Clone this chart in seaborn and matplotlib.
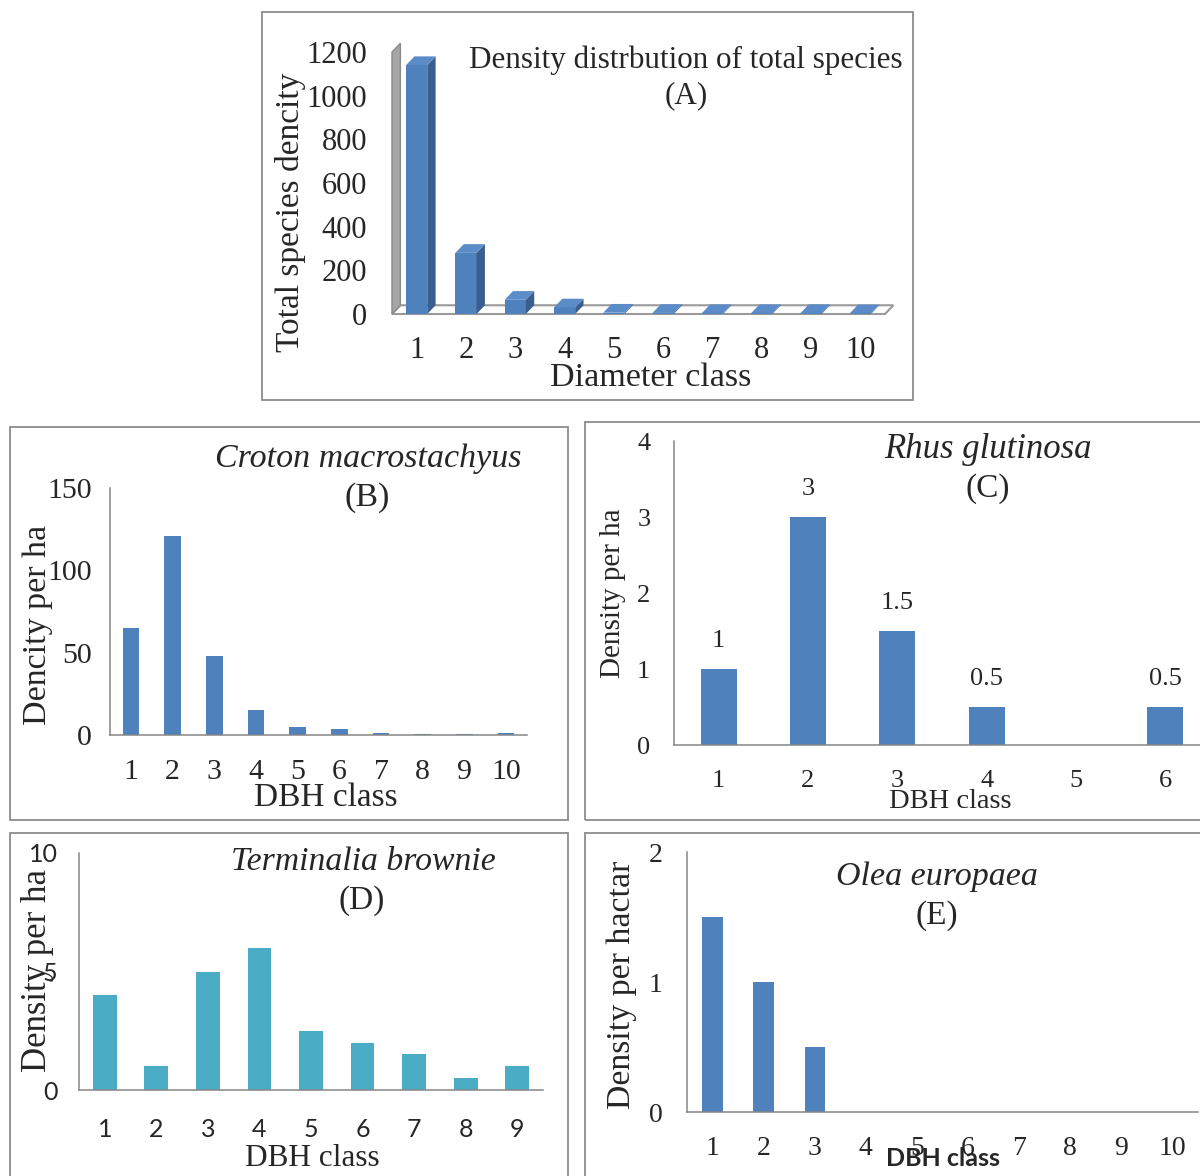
import matplotlib
matplotlib.use("Agg")
import matplotlib.pyplot as plt
from matplotlib.patches import Polygon, Rectangle
import pandas as pd
import seaborn as sns

# values
classes_a = [str(i) for i in range(1, 11)]
total_density = [1140, 280, 65, 30, 6, 5, 4, 4, 4, 3]

classes_b = [str(i) for i in range(1, 11)]
croton = [65, 121, 48, 15, 5, 3.5, 1, 0.5, 0.5, 1]

classes_c = [str(i) for i in range(1, 7)]
rhus = [1, 3, 1.5, 0.5, 0, 0.5]

classes_d = [str(i) for i in range(1, 10)]
terminalia = [4, 1, 5, 6, 2.5, 2, 1.5, 0.5, 1]

classes_e = [str(i) for i in range(1, 11)]
olea = [1.5, 1, 0.5, 0, 0, 0, 0, 0, 0, 0]

BLUE = '#4F81BD'
TEAL = '#4BACC6'
GREY = '#868686'

sns.set_style('white')
plt.rcParams['font.family'] = ['Liberation Serif', 'DejaVu Serif']

W, H = 1200, 1176
fig = plt.figure(figsize=(12, 11.76), dpi=100)


def rect(l, t, r, b):
    return [l / W, 1 - b / H, (r - l) / W, (b - t) / H]


def px(x, y):
    return x / W, 1 - y / H


def frame(l, t, r, b):
    fig.add_artist(Rectangle((l / W, 1 - b / H), (r - l) / W, (b - t) / H,
                             transform=fig.transFigure, fill=False,
                             edgecolor='#8c8c8c', lw=1.3))


def bars(ax, cats, vals, color, width):
    df = pd.DataFrame({'cls': cats, 'val': vals})
    sns.barplot(data=df, x='cls', y='val', color=color, width=width,
                saturation=1, ax=ax, edgecolor='none')
    ax.set_xlabel('')
    ax.set_ylabel('')


def style2d(ax, xpad, ylen, ypad, fs=20, yfs=None):
    sns.despine(ax=ax)
    for s in ('left', 'bottom'):
        ax.spines[s].set_color(GREY)
        ax.spines[s].set_linewidth(1.1)
    ax.tick_params(axis='y', length=ylen, color=GREY, width=1.1,
                   labelsize=yfs or fs, pad=ypad)
    ax.tick_params(axis='x', length=0, labelsize=fs, pad=xpad)


# ---------- panel A (pseudo 3D) ----------
frame(262, 12, 913, 400)
axA = fig.add_axes(rect(392, 52, 885, 314))
bars(axA, classes_a, total_density, BLUE, 0.43)
axA.set_ylim(0, 1200)
axA.set_yticks(range(0, 1201, 200))
for s in axA.spines.values():
    s.set_visible(False)
axA.tick_params(axis='y', length=7, color=GREY, width=1.1, labelsize=22, pad=11)
axA.tick_params(axis='x', length=0, labelsize=22, pad=16)
dx, dy = 0.17, 40
n = len(classes_a)
axA.add_patch(Polygon([(-0.5, 0), (n - 0.5, 0), (n - 0.5 + dx, dy), (-0.5 + dx, dy)],
                      closed=True, facecolor='white', edgecolor='#9a9a9a',
                      lw=1.5, zorder=0.5, clip_on=False))
axA.add_patch(Polygon([(-0.5, 0), (-0.5 + dx, dy), (-0.5 + dx, 1200 + dy), (-0.5, 1200)],
                      closed=True, facecolor='#a6a6a6', edgecolor='#8a8a8a',
                      lw=1, zorder=0.5, clip_on=False))
for p in list(axA.patches)[:n]:
    x0, w, h = p.get_x(), p.get_width(), p.get_height()
    if w == 0:
        continue
    axA.add_patch(Polygon([(x0 + w, 0), (x0 + w + dx, dy), (x0 + w + dx, h + dy), (x0 + w, h)],
                          closed=True, facecolor='#3A5F8E', edgecolor='none',
                          zorder=3, clip_on=False))
    axA.add_patch(Polygon([(x0, h), (x0 + w, h), (x0 + w + dx, h + dy), (x0 + dx, h + dy)],
                          closed=True, facecolor='#5B8CC8', edgecolor='none',
                          zorder=3, clip_on=False))
fig.text(*px(686, 60), 'Density distrbution of total species', ha='center', va='center', fontsize=22.4)
fig.text(*px(686, 96), '(A)', ha='center', va='center', fontsize=22.4)
fig.text(*px(290, 212), 'Total species dencity', ha='center', va='center', rotation=90, fontsize=24)
fig.text(*px(651, 378), 'Diameter class', ha='center', va='center', fontsize=24.5)

# ---------- panel B ----------
frame(10, 427, 568, 820)
axB = fig.add_axes(rect(110, 488, 527, 735))
bars(axB, classes_b, croton, BLUE, 0.4)
axB.set_ylim(0, 150)
axB.set_yticks([0, 50, 100, 150])
style2d(axB, 17, 4.5, 8.5, fs=21.5)
fig.text(*px(368, 459), 'Croton macrostachyus', ha='center', va='center', fontsize=24.5, style='italic')
fig.text(*px(367, 498), '(B)', ha='center', va='center', fontsize=24.5)
fig.text(*px(38, 625), 'Dencity per ha', ha='center', va='center', rotation=90, fontsize=24.5)
fig.text(*px(326, 798), 'DBH class', ha='center', va='center', fontsize=24)

# ---------- panel C ----------
frame(585, 422, 1210, 820)
axC = fig.add_axes(rect(674, 441, 1210, 745))
bars(axC, classes_c, rhus, BLUE, 0.4)
axC.set_ylim(0, 4)
axC.set_yticks([0, 1, 2, 3, 4])
style2d(axC, 18, 5, 12, fs=19)
axC.bar_label(axC.containers[0], labels=[f'{v:g}' if v else '' for v in rhus],
              padding=12, fontsize=19)
fig.text(*px(988, 450), 'Rhus glutinosa', ha='center', va='center', fontsize=25, style='italic')
fig.text(*px(988, 489), '(C)', ha='center', va='center', fontsize=24)
fig.text(*px(613, 593), 'Density per ha', ha='center', va='center', rotation=90, fontsize=21)
fig.text(*px(950, 802), 'DBH class', ha='center', va='center', fontsize=20.5)

# ---------- panel D ----------
frame(10, 833, 568, 1190)
axD = fig.add_axes(rect(79, 853, 543, 1090))
bars(axD, classes_d, terminalia, TEAL, 0.46)
axD.set_ylim(0, 10)
axD.set_yticks([0, 5, 10])
style2d(axD, 20, 4.5, 11, fs=18)
for lab in axD.get_xticklabels() + axD.get_yticklabels():
    lab.set_family(['Lato', 'DejaVu Sans'])
fig.text(*px(363, 862), 'Terminalia brownie', ha='center', va='center', fontsize=24.3, style='italic')
fig.text(*px(362, 901), '(D)', ha='center', va='center', fontsize=24)
fig.text(*px(38, 970), 'Density per ha', ha='center', va='center', rotation=90, fontsize=25)
fig.text(*px(312, 1158), 'DBH class', ha='center', va='center', fontsize=22.5)

# ---------- panel E ----------
frame(585, 833, 1210, 1190)
axE = fig.add_axes(rect(687, 852, 1198, 1112))
bars(axE, classes_e, olea, BLUE, 0.4)
axE.set_ylim(0, 2)
axE.set_yticks([0, 1, 2])
style2d(axE, 17, 6.5, 11, fs=20)
fig.text(*px(937, 877), 'Olea europaea', ha='center', va='center', fontsize=24.5, style='italic')
fig.text(*px(937, 916), '(E)', ha='center', va='center', fontsize=24)
fig.text(*px(622, 985), 'Density per hactar', ha='center', va='center', rotation=90, fontsize=24.4)
fig.text(*px(943, 1158), 'DBH class', ha='center', va='center', fontsize=18,
         fontweight='bold', family=['Lato', 'DejaVu Sans'])

fig.savefig('out.png', dpi=100)
